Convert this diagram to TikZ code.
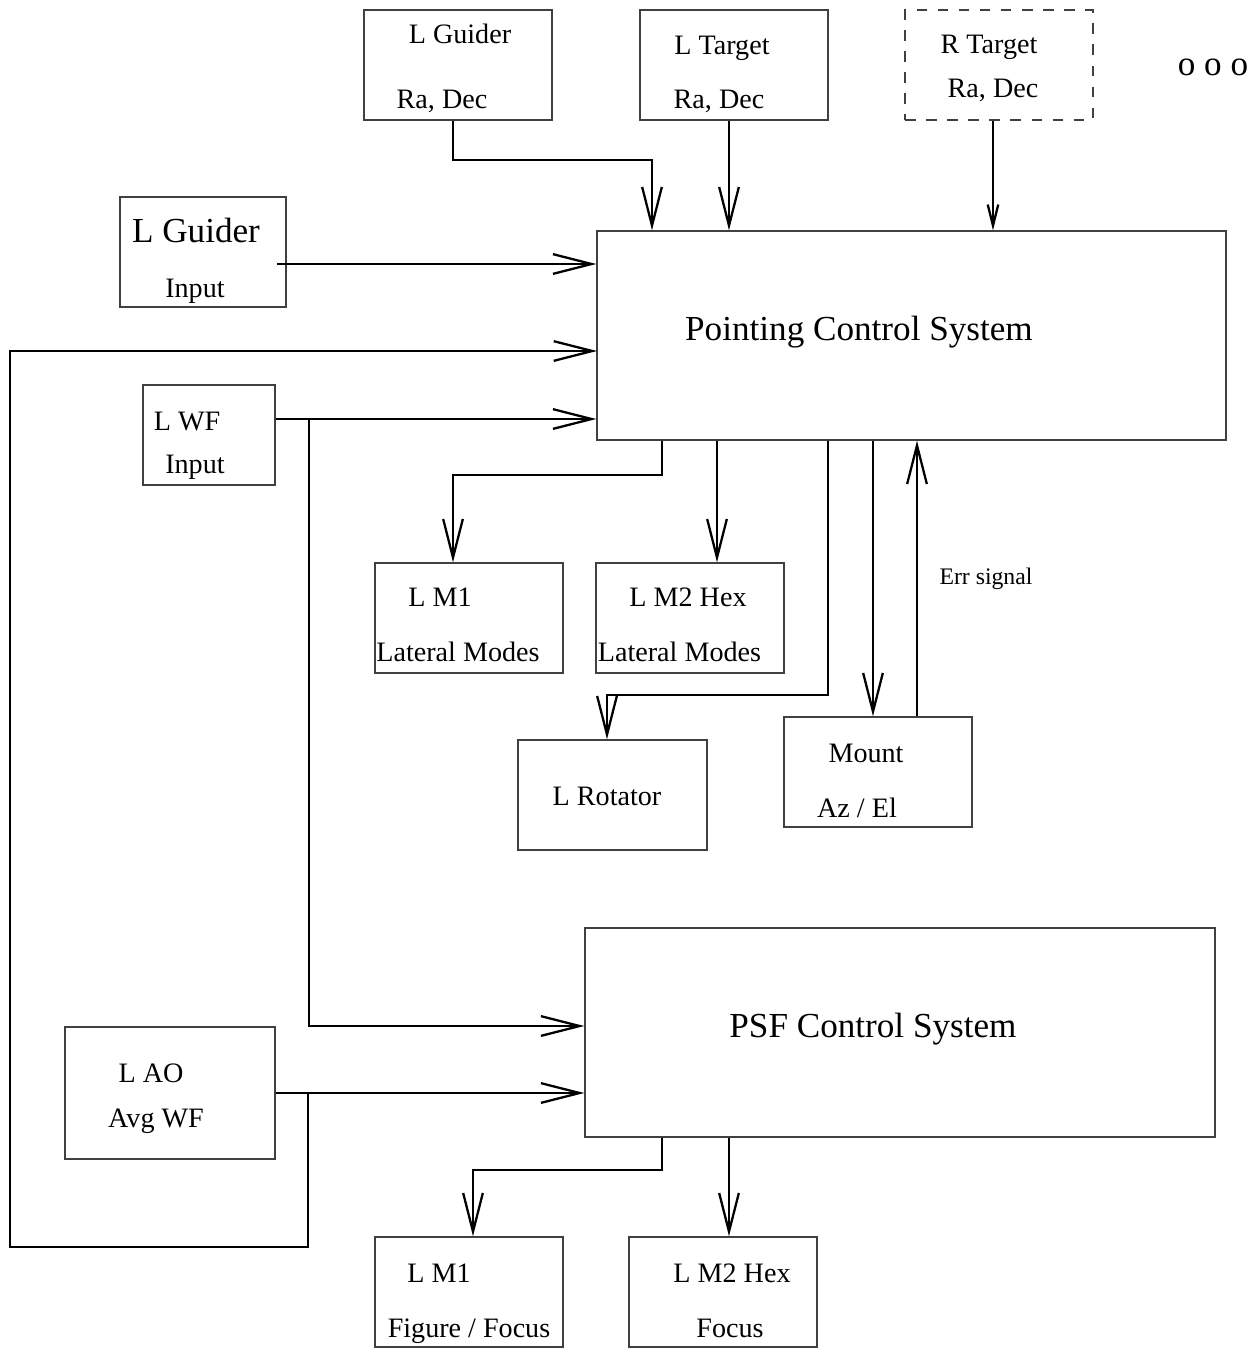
\documentclass[tikz,border=0pt]{standalone}
\usepackage{fontspec}
\setmainfont{Liberation Serif}
\usetikzlibrary{arrows.meta}

\begin{document}
\begin{tikzpicture}[x=0.1mm,y=-0.1mm,
  blk/.style={draw=black!75,line width=0.4pt,minimum width=18.8mm,minimum height=11mm,inner sep=0pt},
  conn/.style={line width=0.65pt,-{Straight Barb[length=11pt,width=5.6pt]}},
  lbl/.style={anchor=base,inner sep=0pt,font=\fontsize{8}{10}\selectfont},
  big/.style={anchor=base,inner sep=0pt,font=\fontsize{10}{12}\selectfont}]
  \useasboundingbox (0,0) rectangle (1260,1349);

  % top inputs
  \node[blk] (gtop) at (458,65) {};
  \node[lbl] (gtopa) at (460,43) {L Guider};
  \node[lbl] (gtopb) at (442,108) {Ra, Dec};

  \node[blk] (ltgt) at (734,65) {};
  \node[lbl] (ltgta) at (722,54) {L Target};
  \node[lbl] (ltgtb) at (719,108) {Ra, Dec};

  \node[blk,dashed] (rtgt) at (999,65) {};
  \node[lbl] (rtgta) at (989,53) {R Target};
  \node[lbl] (rtgtb) at (993,97) {Ra, Dec};

  \node[big] (more) at (1213,75) {o o o};

  % left inputs
  \node[blk,minimum width=16.6mm] (ginp) at (203,252) {};
  \node[big] (ginpa) at (196,242) {L Guider};
  \node[lbl] (ginpb) at (195,297) {Input};

  \node[blk,minimum width=13.2mm,minimum height=10mm] (lwf) at (209,435) {};
  \node[lbl] (lwfa) at (187,430) {L WF};
  \node[lbl] (lwfb) at (195,473) {Input};

  \node[blk,minimum width=21mm,minimum height=13.2mm] (lao) at (170,1093) {};
  \node[lbl] (laoa) at (151,1082) {L AO};
  \node[lbl] (laob) at (156,1127) {Avg WF};

  % control systems
  \node[blk,minimum width=62.9mm,minimum height=20.9mm] (pcs) at (911.5,335.5) {};
  \node[big] (pcsa) at (859,340) {Pointing Control System};

  \node[blk,minimum width=63mm,minimum height=20.9mm] (psf) at (900,1032.5) {};
  \node[big] (psfa) at (873,1037) {PSF Control System};

  % outputs
  \node[blk] (m1lat) at (469,618) {};
  \node[lbl] (m1lata) at (440,606) {L M1};
  \node[lbl] (m1latb) at (458,661) {Lateral Modes};

  \node[blk] (m2lat) at (690,618) {};
  \node[lbl] (m2lata) at (688,606) {L M2 Hex};
  \node[lbl] (m2latb) at (679.5,661) {Lateral Modes};

  \node[blk,minimum width=18.9mm] (rot) at (612.5,795) {};
  \node[lbl] (rota) at (607,805) {L Rotator};

  \node[blk] (mount) at (878,772) {};
  \node[lbl] (mounta) at (866,762) {Mount};
  \node[lbl] (mountb) at (857,817) {Az / El};

  \node[blk] (m1fig) at (469,1292) {};
  \node[lbl] (m1figa) at (439,1282) {L M1};
  \node[lbl] (m1figb) at (469,1337) {Figure / Focus};

  \node[blk] (m2foc) at (723,1292) {};
  \node[lbl] (m2foca) at (732,1282) {L M2 Hex};
  \node[lbl] (m2focb) at (730,1337) {Focus};

  % junctions and bends
  \coordinate (gbend) at (652,160);
  \coordinate (gout) at ([shift={(-1mm,-1.2mm)}]ginp.east);
  \coordinate (wfout) at ([yshift=1.6mm]lwf.east);
  \coordinate (wfj) at (309,419);
  \coordinate (aoj) at (308,1093);
  \coordinate (loopl) at (10,1247);
  \coordinate (loopin) at (597,351);
  \coordinate (p1) at (662,475);
  \coordinate (m2in) at ([xshift=2.7mm]m2lat.north);
  \coordinate (rbend) at (828,695);
  \coordinate (mdown) at ([xshift=-0.5mm]mount.north);
  \coordinate (mup) at ([xshift=3.9mm]mount.north);
  \coordinate (p2) at (662,1170);
  \coordinate (m2fin) at ([xshift=0.6mm]m2foc.north);

  % into pointing control
  \draw[conn] ([xshift=-0.5mm]gtop.south) |- (gbend) -- (gbend |- pcs.north);
  \draw[conn] ([xshift=-0.5mm]ltgt.south) -- ([xshift=-0.5mm]ltgt.south |- pcs.north);
  \draw[line width=0.65pt,-{Straight Barb[length=6pt,width=3pt]}]
    ([xshift=-0.6mm]rtgt.south) -- ([xshift=-0.6mm]rtgt.south |- pcs.north);
  \draw[conn] (gout) -- (gout -| pcs.west);
  \draw[conn] (wfout) -- (wfout -| pcs.west);
  \draw[conn] (aoj) |- (loopl) |- (loopin);

  % into psf control
  \draw[conn] (wfj) |- ([yshift=0.65mm]psf.west);
  \draw[conn] (lao.east) -- (lao.east -| psf.west);

  % out of pointing control
  \draw[conn] (pcs.south -| p1) -- (p1) -| ([xshift=-1.6mm]m1lat.north);
  \draw[conn] (pcs.south -| m2in) -- (m2in);
  \draw[conn] (pcs.south -| rbend) -- (rbend) -| ([xshift=-0.55mm]rot.north);
  \draw[conn] (pcs.south -| mdown) -- (mdown);
  \draw[conn] (mup) -- (mup |- pcs.south);
  \node[lbl,font=\fontsize{6.75}{8}\selectfont] (err) at (986,584) {Err signal};

  % out of psf control
  \draw[conn] (psf.south -| p2) -- (p2) -| ([xshift=0.4mm]m1fig.north);
  \draw[conn] (psf.south -| m2fin) -- (m2fin);
\end{tikzpicture}
\end{document}
